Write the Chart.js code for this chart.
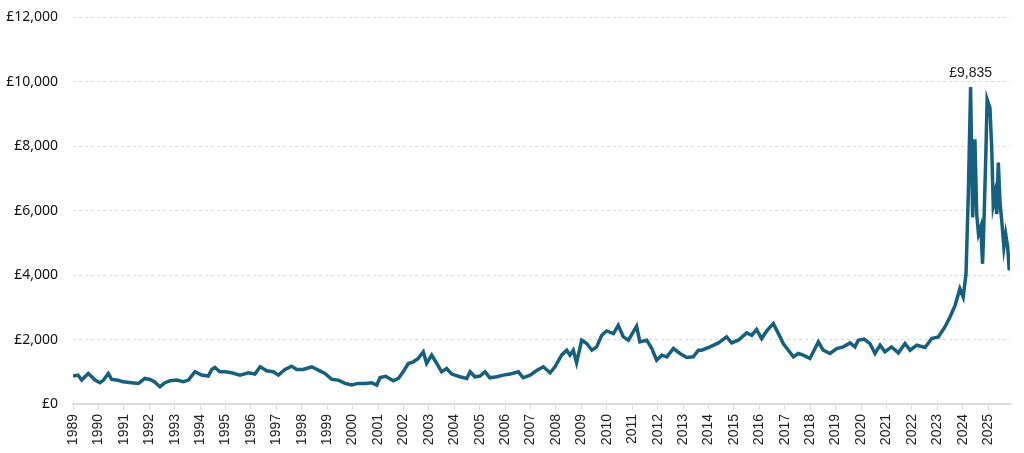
<!DOCTYPE html>
<html>
<head>
<meta charset="utf-8">
<script src="https://cdn.jsdelivr.net/npm/chart.js@4"></script>
<style>
  html, body { margin: 0; padding: 0; background: #fff; overflow: hidden; }
  #wrap { width: 1024px; height: 459px; margin-top: -6px; }
</style>
</head>
<body>
<div id="wrap"><canvas id="canvas"></canvas></div>
<script>
// Price series (decimal year -> £)
const dates = [
  1989.00, 1989.20, 1989.34, 1989.60, 1989.87, 1990.06, 1990.20, 1990.39, 1990.52, 1990.72,
  1990.98, 1991.30, 1991.57, 1991.83, 1992.03, 1992.20, 1992.42, 1992.62, 1992.82, 1993.08,
  1993.34, 1993.54, 1993.80, 1994.06, 1994.32, 1994.46, 1994.58, 1994.78, 1994.98, 1995.24,
  1995.57, 1995.90, 1996.16, 1996.36, 1996.62, 1996.88, 1997.08, 1997.34, 1997.60, 1997.80,
  1998.06, 1998.39, 1998.65, 1998.91, 1999.18, 1999.44, 1999.70, 1999.96, 2000.22, 2000.49,
  2000.75, 2000.95, 2001.08, 2001.30, 2001.60, 2001.80, 2001.99, 2002.19, 2002.39, 2002.58,
  2002.78, 2002.91, 2003.11, 2003.31, 2003.50, 2003.70, 2003.90, 2004.22, 2004.49, 2004.62,
  2004.81, 2005.01, 2005.21, 2005.40, 2005.67, 2005.93, 2006.19, 2006.52, 2006.71, 2006.98,
  2007.24, 2007.50, 2007.77, 2007.96, 2008.22, 2008.42, 2008.55, 2008.68, 2008.81, 2009.01,
  2009.21, 2009.41, 2009.60, 2009.80, 2009.99, 2010.26, 2010.45, 2010.65, 2010.85, 2011.04,
  2011.17, 2011.30, 2011.57, 2011.77, 2011.96, 2012.16, 2012.36, 2012.62, 2012.88, 2013.14,
  2013.40, 2013.60, 2013.73, 2014.06, 2014.39, 2014.71, 2014.91, 2015.17, 2015.50, 2015.70,
  2015.89, 2016.09, 2016.29, 2016.55, 2016.75, 2016.94, 2017.14, 2017.34, 2017.53, 2017.73,
  2017.99, 2018.32, 2018.51, 2018.78, 2019.04, 2019.30, 2019.57, 2019.76, 2019.89, 2020.12,
  2020.35, 2020.55, 2020.75, 2020.94, 2021.20, 2021.47, 2021.73, 2021.93, 2022.19, 2022.52,
  2022.78, 2023.04, 2023.30, 2023.50, 2023.70, 2023.89, 2024.02, 2024.13, 2024.22, 2024.31,
  2024.39, 2024.48, 2024.55, 2024.62, 2024.71, 2024.78, 2024.83, 2024.91, 2024.96, 2025.07,
  2025.14, 2025.20, 2025.27, 2025.34, 2025.40, 2025.47, 2025.53, 2025.62, 2025.69, 2025.77,
  2025.83, 2025.86
];
const prices = [
  866, 897, 742, 949, 742, 660, 742, 949, 763, 742,
  690, 660, 639, 793, 763, 690, 536, 660, 722, 742,
  690, 742, 1000, 897, 866, 1072, 1134, 1000, 1000, 969,
  897, 969, 931, 1155, 1031, 1000, 897, 1072, 1175, 1072,
  1072, 1155, 1052, 949, 763, 742, 639, 588, 639, 639,
  660, 588, 820, 860, 722, 793, 1000, 1258, 1310, 1413,
  1620, 1258, 1516, 1258, 1000, 1103, 928, 845, 793, 1000,
  845, 866, 1000, 814, 845, 897, 928, 1000, 814, 897,
  1040, 1155, 969, 1155, 1516, 1670, 1516, 1670, 1278, 1980,
  1877, 1670, 1773, 2134, 2268, 2185, 2443, 2082, 1980, 2237,
  2412, 1928, 1980, 1722, 1361, 1516, 1464, 1722, 1567, 1443,
  1464, 1670, 1670, 1773, 1897, 2082, 1897, 1980, 2206, 2134,
  2309, 2031, 2268, 2495, 2185, 1877, 1670, 1464, 1567, 1516,
  1413, 1928, 1670, 1567, 1722, 1773, 1897, 1773, 1980, 2015,
  1877, 1567, 1825, 1619, 1773, 1588, 1877, 1670, 1825, 1753,
  2031, 2082, 2392, 2700, 3062, 3578, 3320, 4042, 6516, 9835,
  5794, 8218, 5897, 5278, 5500, 4352, 5485, 7753, 9455, 9196,
  7959, 6207, 6516, 5897, 7495, 6207, 5742, 4866, 5278, 4866,
  4145, 4608
];
const yearStart = 1989;
const yearEnd = 2025;
const valueTicks = [0, 2000, 4000, 6000, 8000, 10000, 12000];

const lineColor = '#165f7e';
const points = dates.map((d, i) => ({ x: d, y: prices[i] }));

// label above the highest point
const peakLabel = {
  id: 'peakLabel',
  afterDatasetsDraw(chart) {
    let idx = 0;
    prices.forEach((p, i) => { if (p > prices[idx]) idx = i; });
    const xs = chart.scales.x, ys = chart.scales.y;
    const px = xs.getPixelForValue(dates[idx]);
    const py = ys.getPixelForValue(prices[idx]);
    const ctx = chart.ctx;
    ctx.save();
    ctx.fillStyle = '#222';
    ctx.font = '14px "Liberation Sans", Arial, sans-serif';
    ctx.textAlign = 'center';
    ctx.textBaseline = 'bottom';
    ctx.fillText('£' + prices[idx].toLocaleString('en-GB'), px, py - 7);
    ctx.restore();
  }
};

new Chart(document.getElementById('canvas').getContext('2d'), {
  type: 'line',
  data: {
    datasets: [{
      data: points,
      borderColor: lineColor,
      borderWidth: 3.5,
      pointRadius: 0,
      tension: 0,
      fill: false
    }]
  },
  options: {
    responsive: true,
    maintainAspectRatio: false,
    animation: false,
    layout: { padding: { top: 10, right: 14, left: 0, bottom: 0 } },
    plugins: {
      legend: { display: false },
      tooltip: { enabled: false }
    },
    scales: {
      x: {
        type: 'linear',
        min: yearStart,
        max: dates[dates.length - 1],
        afterBuildTicks(scale) {
          const t = [];
          for (let y = yearStart; y <= yearEnd; y++) t.push({ value: y });
          scale.ticks = t;
        },
        afterFit(scale) { scale.height = 49; },
        grid: {
          drawOnChartArea: false,
          drawTicks: true,
          tickLength: 6,
          color: '#dcdcdc',
          lineWidth: 1
        },
        border: { display: true, color: '#dcdcdc', width: 2 },
        ticks: {
          autoSkip: false,
          maxRotation: 90,
          minRotation: 90,
          padding: 4,
          color: '#222',
          font: { family: '"Liberation Sans", Arial, sans-serif', size: 14 },
          callback: v => String(v)
        }
      },
      y: {
        min: 0,
        max: 12000,
        afterBuildTicks(scale) {
          scale.ticks = valueTicks.map(v => ({ value: v }));
        },
        afterFit(scale) { scale.width = 73; },
        grid: {
          color: '#d9d9d9',
          lineWidth: 1,
          drawTicks: false
        },
        border: { display: false, dash: [3, 3] },
        ticks: {
          padding: 15,
          color: '#111',
          font: { family: '"Noto Sans", sans-serif', size: 14 },
          callback: v => '£' + v.toLocaleString('en-GB')
        }
      }
    }
  },
  plugins: [peakLabel]
});
</script>
</body>
</html>
